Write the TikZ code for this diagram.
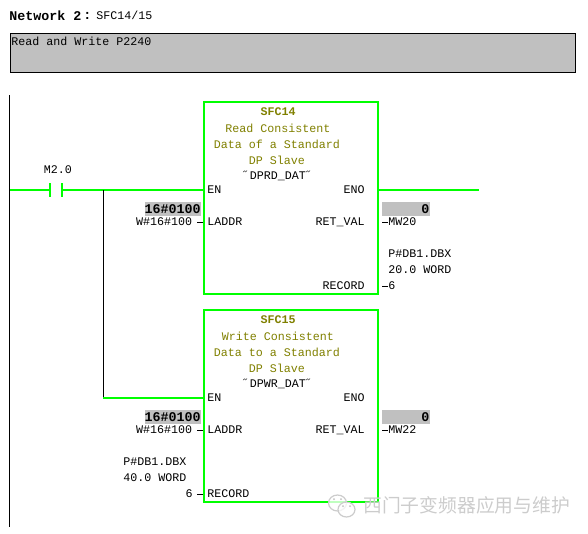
\documentclass[tikz,border=0pt]{standalone}
\usepackage{fontspec}
\usepackage{xcolor}
\setmonofont{Liberation Mono}
\newfontfamily\cjkfont{Noto Sans CJK SC}
\usetikzlibrary{positioning}
\definecolor{wiregreen}{RGB}{0,255,0}
\definecolor{hilite}{RGB}{192,192,192}
\definecolor{olivetxt}{RGB}{128,128,0}
\tikzset{
  lbl/.style={inner sep=0pt,font=\ttfamily\fontsize{8.75pt}{10pt}\selectfont},
  lblw/.style={lbl,anchor=west},
  lble/.style={lbl,anchor=east},
  head/.style={lbl,text=olivetxt},
  headb/.style={head,font=\ttfamily\bfseries\fontsize{8.75pt}{10pt}\selectfont},
  val/.style={lble,font=\ttfamily\bfseries\fontsize{10pt}{10pt}\selectfont},
  fbblock/.style={draw=wiregreen,line width=1.6pt,minimum width=130.5pt,minimum height=144pt,inner sep=0pt},
  wire/.style={draw=wiregreen,line width=1.6pt},
  stub/.style={draw=black,line width=0.75pt},
  bubble/.style={draw=black!20,fill=white,fill opacity=0.75,line width=0.9pt},
  watermark/.style={inner sep=0pt,text=black!20,font=\cjkfont\fontsize{14.1pt}{16pt}\selectfont}
}
\begin{document}
\begin{tikzpicture}[x=0.75pt,y=-0.75pt]
    \useasboundingbox (0,0) rectangle (588,533);
    % header
    \node[lblw,font=\ttfamily\bfseries\fontsize{10pt}{10pt}\selectfont] (nettitle) at (9,15.5) {Network 2};
    \node[lblw,font=\ttfamily\bfseries\fontsize{10pt}{10pt}\selectfont] (netcolon) at (83,15.5) {:};
    \node[lblw] (netname) at (96,15.5) {SFC14/15};
    \node[draw=black,fill=hilite,line width=0.75pt,minimum width=423.75pt,minimum height=29.25pt,inner sep=0pt,anchor=north west] (comment) at (9.5,32.5) {};
    \node[lblw] (commenttxt) at (11,41.5) {Read and Write P2240};
    % power rail
    \coordinate (railtop) at (9.5,95);
    \coordinate (railbot) at (9.5,527);
    \draw[stub] (railtop) -- (railbot);
    % blocks
    \node[fbblock] (sfca) at (291,198) {};
    \node[fbblock] (sfcb) at (291,406) {};
    % contact
    \coordinate (rung) at (10,190);
    \coordinate (contl) at (50,190);
    \coordinate (contr) at (62,190);
    \coordinate (branch) at (103,190);
    \coordinate (branchb) at (103,398);
    \coordinate (enoend) at (479,190);
    \node[lbl] (contname) at (58,170) {M2.0};
    \draw[wire] (rung) -- (contl);
    \draw[wire] (contr) -- (branch) -- (branch -| sfca.west);
    \draw[wire] ([yshift=5.25pt]contl) -- ([yshift=-5.25pt]contl);
    \draw[wire] ([yshift=5.25pt]contr) -- ([yshift=-5.25pt]contr);
    \draw[stub] (branch) -- (branchb);
    \draw[wire] (branchb) -- (branchb -| sfcb.west);
    \draw[wire] (enoend -| sfca.east) -- (enoend);
    % block texts
    \foreach \nm/\yo/\fc/\rw/\ln/\inst in {sfca/0/SFC14/Read/of a Standard/DPRD,sfcb/208/SFC15/Write/to a Standard/DPWR} {
      \node[headb] (\nm t) at (278,112+\yo) {\fc};
      \node[head] (\nm r) at (278,128+\yo) {\rw{} Consistent};
      \node[head] (\nm d) at (277,144+\yo) {Data \ln};
      \node[head] (\nm s) at (277,160+\yo) {DP Slave};
      \node[lbl] (\nm i) at (278,176+\yo) {˝\inst\_DAT˝};
      \node[lblw] (\nm en) at (207,190+\yo) {EN};
      \node[lblw] (\nm la) at (207,222+\yo) {LADDR};
      \node[lble] (\nm eno) at (365,190+\yo) {ENO};
      \node[lble] (\nm ret) at (365,222+\yo) {RET\_VAL};
      \node[lble] (\nm w) at (192.5,222+\yo) {W\#16\#100};
      \node[val,fill=hilite,minimum width=42pt,minimum height=10.5pt,align=center] (\nm v) at (201,209+\yo) {16\#0100};
      \node[val,fill=hilite,minimum width=36pt,minimum height=10.5pt,text width=35.5pt,align=right] (\nm z) at (430,209+\yo) {0};
      \draw[stub,shorten <=3.5pt] (\nm w.east) -- (\nm w.east -| \nm.west);
    }
    \node[lblw] (mwa) at (388,222) {MW20};
    \node[lblw] (mwb) at (388,430) {MW22};
    \draw[stub,shorten <=2.25pt] (mwa.west -| sfca.east) -- (mwa.west);
    \draw[stub,shorten <=2.25pt] (mwb.west -| sfcb.east) -- (mwb.west);
    % record pins
    \node[lble] (reca) at (365,286) {RECORD};
    \node[lblw] (ptra) at (388,254) {P\#DB1.DBX};
    \node[lblw] (lena) at (388,270) {20.0 WORD};
    \node[lblw] (sixa) at (388,286) {6};
    \draw[stub,shorten <=2.25pt] (sixa.west -| sfca.east) -- (sixa.west);
    \node[lblw] (recb) at (207,494) {RECORD};
    \node[lblw] (ptrb) at (123,462) {P\#DB1.DBX};
    \node[lblw] (lenb) at (123,478) {40.0 WORD};
    \node[lble] (sixb) at (193,494) {6};
    \draw[stub,shorten <=3pt] (sixb.east) -- (sixb.east -| sfcb.west);
    % watermark
    \draw[bubble] (337.5,503) ellipse (9 and 8);
    \draw[bubble] (346.5,509.5) ellipse (8.5 and 7.5);
    \foreach \ex/\ey in {334/499,341/499,343/506,350/506}
      \fill[black!25] (\ex,\ey) circle (1);
    \node[watermark,anchor=west] (mark) at (363,505) {西门子变频器应用与维护};
\end{tikzpicture}
\end{document}
